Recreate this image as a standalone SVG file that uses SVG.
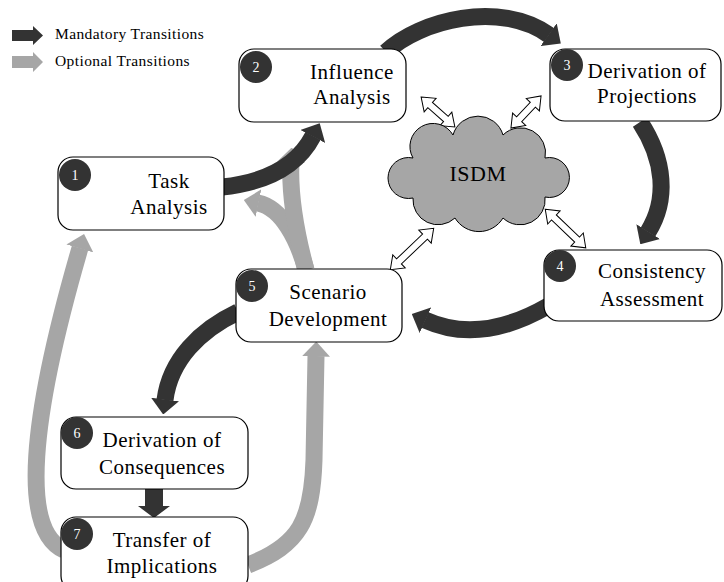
<svg xmlns="http://www.w3.org/2000/svg" width="724" height="582" viewBox="0 0 724 582">
<style>
.box{fill:#fff;stroke:#000;stroke-width:1.2}
.badge{fill:#333}
.num{font-family:"Liberation Serif",serif;font-size:14px;fill:#fff;text-anchor:middle}
.lbl{font-family:"Liberation Serif",serif;font-size:21px;letter-spacing:0.5px;fill:#000;text-anchor:middle}
.leg{font-family:"Liberation Serif",serif;font-size:15.5px;letter-spacing:0.4px;fill:#000}
.dk{fill:none;stroke:#333;stroke-width:17;marker-end:url(#hd)}
.gr{fill:none;stroke:#a6a6a6;stroke-width:17}
.gra{marker-end:url(#hg)}
.dbl{fill:#fff;stroke:#000;stroke-width:1}
</style>
<defs>
<marker id="hd" markerUnits="userSpaceOnUse" markerWidth="15" markerHeight="28" viewBox="0 0 15 28" refX="0.5" refY="14" orient="auto"><path d="M0,0 L15,14 L0,28 Z" fill="#333"/></marker>
<marker id="hg" markerUnits="userSpaceOnUse" markerWidth="15" markerHeight="28" viewBox="0 0 15 28" refX="0.5" refY="14" orient="auto"><path d="M0,0 L15,14 L0,28 Z" fill="#a6a6a6"/></marker>
</defs>
<g id="legend">
<path d="M12,30 L33,30 L33,26 L43,35.5 L33,45 L33,41 L12,41 Z" fill="#333"/>
<path d="M12,56 L33,56 L33,52 L43,62 L33,72 L33,68 L12,68 Z" fill="#a6a6a6"/>
<text class="leg" x="55" y="39">Mandatory Transitions</text>
<text class="leg" x="55" y="66">Optional Transitions</text>
</g>
<g id="connectors">
<path class="gr gra" d="M64,550 C20,530 30,420 80,248"/>
<path class="gr gra" d="M248,565 C300,545 312,520 314,460 L316,356"/>
<path class="gr gra" d="M306,270 C298,240 282,208 258,203"/>
<path class="gr gra" d="M306,270 C298,240 289,200 291,162"/>
<path class="dk" d="M222,187 Q290,180 313,136"/>
<path class="dk" d="M386,52 C420,20 500,0 549,35"/>
<path class="dk" d="M640,122 C665,160 668,200 648,232"/>
<path class="dk" d="M548,306 Q480,345 425,320"/>
<path class="dk" d="M238,312 C200,330 170,360 165,400"/>
<path d="M145,489 L163,489 L163,506 L170,506 L154,518 L138,506 L145,506 Z" fill="#333"/>
<path class="dbl" transform="translate(438,112) rotate(41.4)" d="M-22.5,0 L-10.5,-9 L-10.5,-3.5 L10.5,-3.5 L10.5,-9 L22.5,0 L10.5,9 L10.5,3.5 L-10.5,3.5 L-10.5,9 Z"/>
<path class="dbl" transform="translate(526,112) rotate(-46.8)" d="M-22,0 L-10,-9 L-10,-3.5 L10,-3.5 L10,-9 L22,0 L10,9 L10,3.5 L-10,3.5 L-10,9 Z"/>
<path class="dbl" transform="translate(565.5,228.5) rotate(43.6)" d="M-28,0 L-16,-9 L-16,-3.5 L16,-3.5 L16,-9 L28,0 L16,9 L16,3.5 L-16,3.5 L-16,9 Z"/>
<path class="dbl" transform="translate(412,249) rotate(-43.7)" d="M-30,0 L-18,-9 L-18,-3.5 L18,-3.5 L18,-9 L30,0 L18,9 L18,3.5 L-18,3.5 L-18,9 Z"/>
</g>
<g id="isdm">
<path d="M413,158 A21,21 0 0 1 453,135 A26,26 0 0 1 503,135 A25,25 0 0 1 545,158 A20,20 0 1 1 545,197 A25,25 0 0 1 503,218 A28,28 0 0 1 455,218 A25,25 0 0 1 413,198 A20.5,20.5 0 1 1 413,158 Z" fill="#a6a6a6" stroke="#000" stroke-width="1"/>
<text class="lbl" x="478" y="181" style="font-size:22px">ISDM</text>
</g>
<g id="n1">
<rect class="box" x="58" y="157" width="166" height="73" rx="15"/>
<circle class="badge" cx="75" cy="175" r="16"/><text class="num" x="75" y="180">1</text>
<text class="lbl" x="169" y="188">Task</text><text class="lbl" x="169" y="214">Analysis</text>
</g>
<g id="n2">
<rect class="box" x="239" y="49" width="167" height="73" rx="15"/>
<circle class="badge" cx="256" cy="67" r="16"/><text class="num" x="256" y="72">2</text>
<text class="lbl" x="352" y="79">Influence</text><text class="lbl" x="352" y="104">Analysis</text>
</g>
<g id="n3">
<rect class="box" x="550" y="49" width="171" height="72" rx="15"/>
<circle class="badge" cx="567" cy="65" r="16"/><text class="num" x="567" y="70">3</text>
<text class="lbl" x="647" y="78">Derivation of</text><text class="lbl" x="647" y="103">Projections</text>
</g>
<g id="n4">
<rect class="box" x="544" y="250" width="178" height="71" rx="15"/>
<circle class="badge" cx="560" cy="266" r="16"/><text class="num" x="560" y="271">4</text>
<text class="lbl" x="652" y="278">Consistency</text><text class="lbl" x="652" y="306">Assessment</text>
</g>
<g id="n5">
<rect class="box" x="236" y="269" width="166" height="73" rx="15"/>
<circle class="badge" cx="252" cy="286" r="16"/><text class="num" x="252" y="291">5</text>
<text class="lbl" x="328" y="299">Scenario</text><text class="lbl" x="328" y="326">Development</text>
</g>
<g id="n6">
<rect class="box" x="61" y="417" width="187" height="72" rx="15"/>
<circle class="badge" cx="77" cy="433" r="16"/><text class="num" x="77" y="438">6</text>
<text class="lbl" x="162" y="447">Derivation of</text><text class="lbl" x="162" y="474">Consequences</text>
</g>
<g id="n7">
<rect class="box" x="61" y="517" width="187" height="74" rx="15"/>
<circle class="badge" cx="77" cy="534" r="16"/><text class="num" x="77" y="539">7</text>
<text class="lbl" x="162" y="547">Transfer of</text><text class="lbl" x="162" y="573">Implications</text>
</g>
</svg>
